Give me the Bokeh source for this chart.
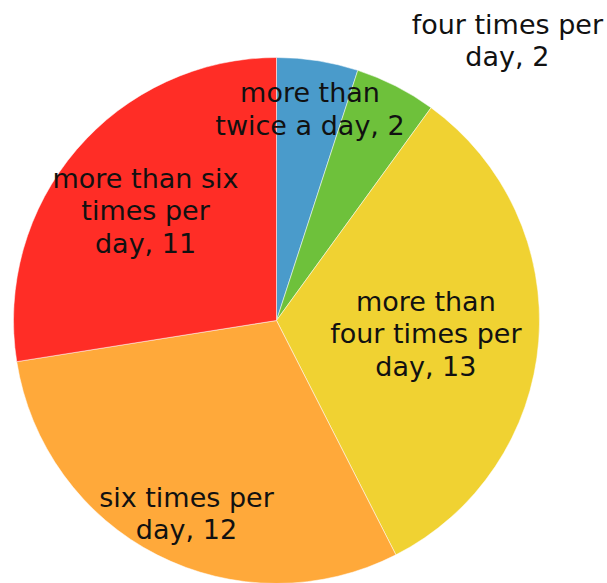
import math
from bokeh.plotting import figure
from bokeh.models import ColumnDataSource, Range1d
from bokeh.core.properties import value
from bokeh.embed import file_html
from bokeh.resources import INLINE

# Daily frequency categories and their counts (clockwise from 12 o'clock)
categories = [
    "more than\ntwice a day",
    "four times per\nday",
    "more than\nfour times per\nday",
    "six times per\nday",
    "more than six\ntimes per\nday",
]
counts = [2, 2, 13, 12, 11]
colors = ["#4A9BCB", "#6EC13B", "#F0D232", "#FFA93A", "#FF2D26"]

# label placement: radial fraction of the pie radius and angular nudge (deg)
label_radius = [0.815, 1.38, 0.57, 0.81, 0.65]
label_shift = [0.0, -12.5, -0.5, 2.0, 0.5]

W, H = 607, 583
cx, cy, R = 276, 263, 263

total = float(sum(counts))
starts, ends, lx, ly, texts = [], [], [], [], []
cum = 0.0
for cat, n, fr, sh in zip(categories, counts, label_radius, label_shift):
    a0 = math.pi / 2 - 2 * math.pi * cum / total
    cum += n
    a1 = math.pi / 2 - 2 * math.pi * cum / total
    starts.append(a1)
    ends.append(a0)
    mid = (a0 + a1) / 2 + math.radians(sh)
    lx.append(cx + fr * R * math.cos(mid))
    ly.append(cy + fr * R * math.sin(mid))
    texts.append(f"{cat}, {n}")

src = ColumnDataSource(dict(start=starts, end=ends, color=colors))
lab = ColumnDataSource(dict(x=lx, y=ly, text=texts))

p = figure(width=W, height=H, x_range=Range1d(0, W), y_range=Range1d(0, H),
           output_backend="svg", toolbar_location=None, min_border=0,
           background_fill_color="white", border_fill_color="white")
p.axis.visible = False
p.grid.visible = False
p.outline_line_color = None

p.wedge(x=cx, y=cy, radius=R, start_angle="start", end_angle="end",
        fill_color="color", line_color="white", line_width=0.5, source=src)

p.text(x="x", y="y", text="text", source=lab,
       text_font=value("DejaVu Sans"), text_font_size="27px",
       text_color="#111111", text_align="center", text_baseline="middle",
       text_line_height=1.05)

open("out.html", "w").write(file_html(p, INLINE))
